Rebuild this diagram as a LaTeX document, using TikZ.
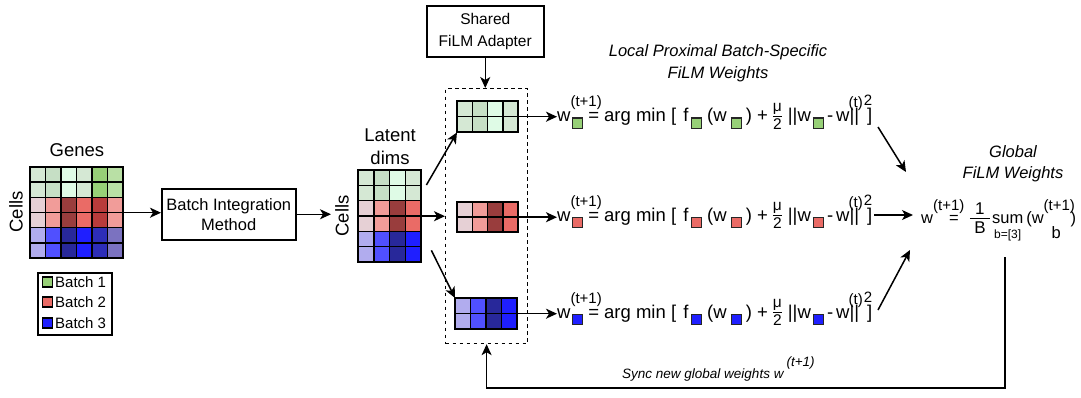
\documentclass[tikz,border=0pt]{standalone}
\usepackage{fontspec}
\setmainfont{Liberation Sans}
\usetikzlibrary{arrows.meta,calc}

\definecolor{gA}{HTML}{D5E8D4}
\definecolor{gB}{HTML}{C6DFC5}
\definecolor{gC}{HTML}{DFFBE6}
\definecolor{gD}{HTML}{97D077}
\definecolor{gE}{HTML}{B9E0A5}
\definecolor{rA}{HTML}{E6D0D5}
\definecolor{rB}{HTML}{F19C99}
\definecolor{rC}{HTML}{993D3D}
\definecolor{rD}{HTML}{EA6B66}
\definecolor{rE}{HTML}{B83B3B}
\definecolor{bA}{HTML}{B1ACEE}
\definecolor{bB}{HTML}{5050FF}
\definecolor{bC}{HTML}{28289A}
\definecolor{bD}{HTML}{1F1FFF}
\definecolor{bE}{HTML}{2D2DB8}
\definecolor{bF}{HTML}{7B72C0}

\newcommand\fs[2]{\fontsize{#1}{#2}\selectfont}
\newcommand\sqb[1]{\raisebox{-6pt}{\fboxsep=0pt\fboxrule=1.1pt\fcolorbox{black!85}{#1}{\vrule width 0pt height 9pt\hspace{9pt}}}}
% #1 raise, #2 num, #3 den, #4 kern, #5 font size, #6 side padding
\newcommand\vfrac[6]{\raisebox{#1}{\vbox{\fs{#5}{#5}\halign{\hfil\kern#6##\kern#6\hfil\cr #2\cr\noalign{\kern#4\hrule height 1pt\kern#4}#3\cr}}}}
\newcommand\eqrow[1]{%
w\rlap{\raisebox{15pt}{\fs{15}{16}(t+1)}}\hspace{1.5pt}\sqb{#1}\hspace{5pt}= arg min [ \hspace{2pt}f\hspace{2.5pt}\sqb{#1}\hspace{5pt}(w\hspace{4pt}\sqb{#1}\hspace{4pt}) +\hspace{5pt}\vfrac{-7.5pt}{μ}{2}{1.5pt}{15.5}{0pt}\hspace{6pt}||w\hspace{2pt}\sqb{#1}\hspace{3pt}-\hspace{3pt}w\rlap{\raisebox{14pt}{\hspace{-1pt}\fs{15}{16}(t)\hspace{1pt}\raisebox{2pt}{2}}}||\hspace{8pt}]}
\newcommand\gform{%
w\rlap{\raisebox{13pt}{\fs{15}{16}(t+1)}}\hspace{16pt}=\hspace{11pt}\vfrac{-10pt}{1}{B}{3pt}{17}{4.5pt}\hspace{2pt}\vtop{\halign{\hfil##\hfil\cr sum\cr\fs{12}{12}b=[3]\cr}}\hspace{3pt}(w\rlap{\raisebox{13pt}{\fs{15}{16}(t+1)}}\rlap{\raisebox{-15pt}{\hspace{8pt}b}}\hspace{27pt})}
\newcommand\cellrow[5]{\foreach \cc [count=\ii from 0] in {#5} {\draw[cell,fill=\cc] ({#1+\ii*#3},{#2}) rectangle ++(#3,#4);}}

\begin{document}
\begin{tikzpicture}[x=1pt,y=-1pt,
  cell/.style={draw=black, line width=1.5pt},
  box/.style={draw=black, line width=1.5pt, inner sep=0},
  arr/.style={draw=black, line width=1.5pt, -{Stealth[length=11pt,width=10pt,inset=3pt]}},
  lbl/.style={inner sep=0, align=center},
  mat/.style={inner sep=0, anchor=north west}]
\useasboundingbox (0,0) rectangle (1081,397);

% ---------- genes matrix ----------
\node[lbl, font=\fs{18.5}{22}] (genes) at (77,150) {Genes};
\node[lbl, font=\fs{18.5}{22}, rotate=90] (cells1) at (16,212) {Cells};
\node[mat, minimum width=93pt, minimum height=91pt] (gm) at (30,167) {};
\cellrow{30}{167}{15.5}{15.17}{gA,gB,gC,gA,gD,gE}
\cellrow{30}{182.17}{15.5}{15.17}{gA,gB,gC,gA,gD,gE}
\cellrow{30}{197.33}{15.5}{15.17}{rA,rB,rC,rD,rE,rB}
\cellrow{30}{212.5}{15.5}{15.17}{rA,rB,rC,rD,rE,rB}
\cellrow{30}{227.67}{15.5}{15.17}{bA,bB,bC,bD,bE,bF}
\cellrow{30}{242.83}{15.5}{15.17}{bA,bB,bC,bD,bE,bF}

% ---------- legend ----------
\node[box, mat, minimum width=74pt, minimum height=62pt] (leg) at (37,272) {};
\node[draw=black, line width=1.2pt, fill=gD, minimum size=10pt, inner sep=0] (l1) at (47.5,282) {};
\node[draw=black, line width=1.2pt, fill=rD, minimum size=10pt, inner sep=0] (l2) at (47.5,302) {};
\node[draw=black, line width=1.2pt, fill=bD, minimum size=10pt, inner sep=0] (l3) at (47.5,323) {};
\node[lbl, font=\fs{15}{18}, anchor=west] (t1) at (55,282) {Batch 1};
\node[lbl, font=\fs{15}{18}, anchor=west] (t2) at (55,302) {Batch 2};
\node[lbl, font=\fs{15}{18}, anchor=west] (t3) at (55,323) {Batch 3};

% ---------- batch integration ----------
\node[box, mat, minimum width=134pt, minimum height=51pt, font=\fs{16.5}{20}, align=center] (bim) at (161,188) {Batch Integration\\Method};

% ---------- latent matrix ----------
\node[lbl, font=\fs{18.5}{23}] (lat) at (390,146.5) {Latent\\dims};
\node[lbl, font=\fs{18.5}{22}, rotate=90] (cells2) at (342,216) {Cells};
\node[mat, minimum width=63pt, minimum height=92pt] (lm) at (358,170) {};
\cellrow{358}{170}{15.75}{15.33}{gA,gB,gC,gA}
\cellrow{358}{185.33}{15.75}{15.33}{gA,gB,gC,gA}
\cellrow{358}{200.67}{15.75}{15.33}{rA,rB,rC,rD}
\cellrow{358}{216}{15.75}{15.33}{rA,rB,rC,rD}
\cellrow{358}{231.33}{15.75}{15.33}{bA,bB,bC,bD}
\cellrow{358}{246.67}{15.75}{15.33}{bA,bB,bC,bD}

% ---------- shared adapter & dashed box ----------
\node[box, mat, minimum width=117pt, minimum height=51pt, font=\fs{15.5}{22}, align=center] (sfa) at (426,5) {Shared\\FiLM Adapter};
\node[draw=black, line width=1.2pt, dash pattern=on 3.5pt off 3.5pt, mat, minimum width=82pt, minimum height=255pt] (dbox) at (445,88) {};

% small matrices
\node[mat, minimum width=61pt, minimum height=31pt] (sg) at (457,101) {};
\cellrow{457}{101}{15.25}{15.5}{gA,gB,gC,gA}
\cellrow{457}{116.5}{15.25}{15.5}{gA,gB,gC,gA}
\node[mat, minimum width=61pt, minimum height=30pt] (sr) at (457,202) {};
\cellrow{457}{202}{15.25}{15}{rA,rB,rC,rD}
\cellrow{457}{217}{15.25}{15}{rA,rB,rC,rD}
\node[mat, minimum width=62pt, minimum height=31pt] (sb) at (455,298) {};
\cellrow{455}{298}{15.5}{15.5}{bA,bB,bC,bD}
\cellrow{455}{313.5}{15.5}{15.5}{bA,bB,bC,bD}

% ---------- equations ----------
\node[lbl, font=\fs{16.5}{22}\itshape] (lpt) at (718,63) {Local Proximal Batch-Specific\\FiLM Weights};
\node[inner sep=0, anchor=base west, font=\fs{18.5}{22}] (e1) at (557,121.5) {\eqrow{gD}};
\node[inner sep=0, anchor=base west, font=\fs{18.5}{22}] (e2) at (557,221) {\eqrow{rD}};
\node[inner sep=0, anchor=base west, font=\fs{18.5}{22}] (e3) at (557,318) {\eqrow{bD}};

% ---------- global ----------
\node[lbl, font=\fs{16.5}{21}\itshape] (gwt) at (1013,164) {Global\\FiLM Weights};
\node[inner sep=0, anchor=base west, font=\fs{16.5}{15}] (gf) at (921,223.5) {\gform};

% ---------- sync text ----------
\node[inner sep=0, anchor=base west, font=\fs{13.5}{16}\itshape] (sync) at (622,378) {Sync new global weights w\hspace{3pt}\raisebox{12pt}{(t+1)}};

% ---------- connectors ----------
\draw[arr] (gm.east) -- (gm.east -| bim.west);
\draw[arr, shorten >=4pt] (bim.east) -- (bim.east -| cells2.north);
\draw[arr] (sfa.south) -- (sfa.south |- dbox.north);
\draw[arr] ($(lm.north east)+(5,15)$) -- (sg.south west);
\draw[arr] (lm.east) -- (lm.east -| dbox.west);
\draw[arr] ($(lm.south east)+(10,-12)$) -- (sb.north west);
\draw[arr] (sg.east) -- (sg.east -| e1.west);
\draw[arr] (sr.east) -- (sr.east -| e2.west);
\draw[arr] (sb.east) -- (sb.east -| e3.west);

\coordinate (a1s) at (878,127);
\coordinate (a1e) at (906,172);
\coordinate (a2s) at (874,215);
\coordinate (a2e) at (913,215);
\coordinate (a3s) at (878,310);
\coordinate (a3e) at (910,250);
\draw[arr] (a1s) -- (a1e);
\draw[arr] (a2s) -- (a2e);
\draw[arr] (a3s) -- (a3e);

\coordinate (fbtop) at (1005,257);
\coordinate (fbcorner) at (1005,388);
\draw[arr] (fbtop) -- (fbcorner) -| (dbox.south);
\end{tikzpicture}
\end{document}
